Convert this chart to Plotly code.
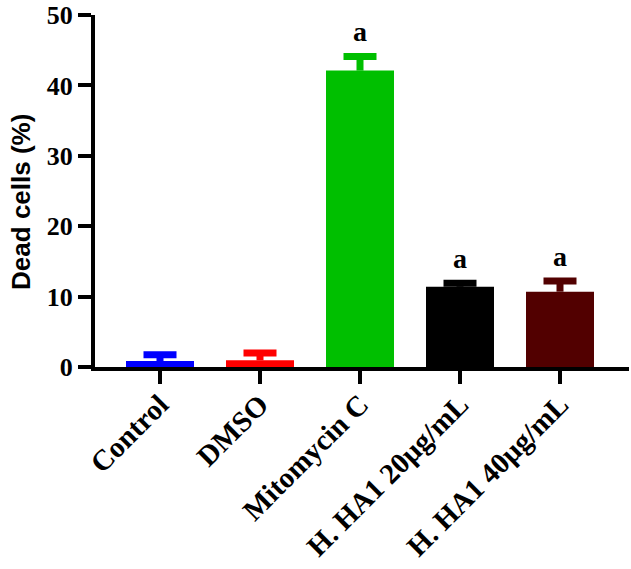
import plotly.graph_objects as go

categories = ["Control", "DMSO", "Mitomycin C", "H. HA1 20µg/mL", "H. HA1 40µg/mL"]
means = [0.85, 0.95, 42.1, 11.4, 10.7]
errors = [0.9, 1.05, 2.0, 0.5, 1.5]
letters = ["", "", "a", "a", "a"]
colors = ["#0000FF", "#FF0000", "#00BF00", "#000000", "#520000"]
y_title = "Dead cells (%)"

tops = [m + e for m, e in zip(means, errors)]

fig = go.Figure()
fig.add_trace(go.Bar(
    x=categories, y=means, marker=dict(color=colors, line=dict(width=0)),
    width=0.68, showlegend=False, hoverinfo="skip",
))
for c, m, e, t, col in zip(categories, means, errors, tops, colors):
    # stem only (no caps)
    fig.add_trace(go.Scatter(
        x=[c], y=[m], mode="markers", marker=dict(size=0, opacity=0),
        error_y=dict(type="data", symmetric=False, array=[e], arrayminus=[0],
                     width=0, thickness=7, color=col),
        showlegend=False, hoverinfo="skip",
    ))
    # cap at the top
    fig.add_trace(go.Scatter(
        x=[c], y=[t], mode="markers", marker=dict(size=0, opacity=0),
        error_y=dict(type="data", symmetric=True, array=[0],
                     width=16.5, thickness=7, color=col),
        showlegend=False, hoverinfo="skip",
    ))

for c, t, lab in zip(categories, tops, letters):
    if lab:
        fig.add_annotation(
            x=c, y=t + 3.5, text=lab, showarrow=False, yanchor="middle",
            font=dict(family="Liberation Serif", size=28, color="black", weight="bold"),
        )

# y-axis title as an annotation for precise placement
fig.add_annotation(
    xref="paper", yref="paper", x=0, y=0.469, xshift=-74, text=y_title,
    textangle=-90, showarrow=False, xanchor="center", yanchor="middle",
    font=dict(family="Liberation Sans", size=26, color="black", weight="bold"),
)

fig.update_layout(
    width=631, height=569,
    margin=dict(l=95, r=2, t=15, b=202),
    plot_bgcolor="white", paper_bgcolor="white",
)
fig.update_xaxes(
    range=[-0.65, 4.69], showline=True, linewidth=4, linecolor="black",
    ticks="outside", ticklen=13, tickwidth=4, tickcolor="black",
    tickangle=-45, automargin=False, ticklabelstandoff=-8,
    tickfont=dict(family="Liberation Serif", size=29, color="black", weight="bold"),
    showgrid=False, zeroline=False,
)
fig.update_yaxes(
    range=[0, 50], tickvals=[0, 10, 20, 30, 40, 50], showline=True, linewidth=4,
    linecolor="black", ticks="outside", ticklen=13, tickwidth=4, tickcolor="black",
    automargin=False,
    tickfont=dict(family="Liberation Serif", size=26, color="black", weight="bold"),
    showgrid=False, zeroline=False,
)

fig.write_html(
    "out.html",
    config={"displayModeBar": False},
    post_script="document.body.style.margin='0';document.body.style.overflow='hidden';",
)
